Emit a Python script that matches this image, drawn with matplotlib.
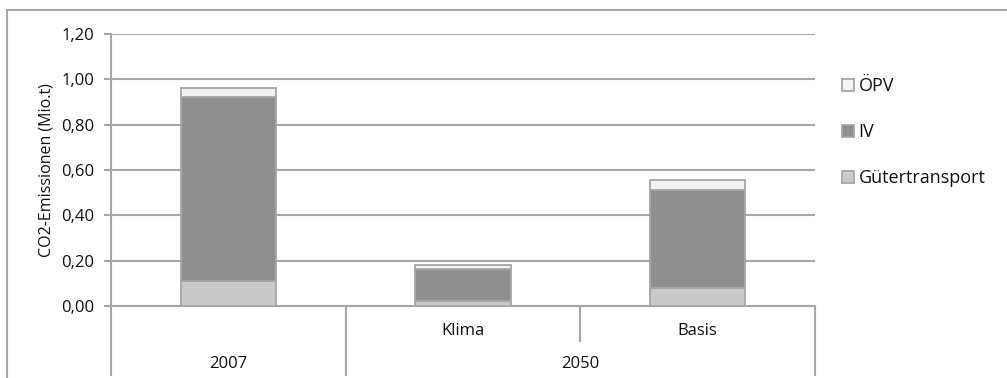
import matplotlib.pyplot as plt
from matplotlib.patches import Rectangle
import numpy as np

plt.rcParams['font.family'] = ['Open Sans', 'DejaVu Sans']

# data
categories = ['2007', 'Klima', 'Basis']
groups = ['2007', '2050']
gueter = [0.11, 0.02, 0.08]
iv = [0.81, 0.145, 0.43]
oepv = [0.04, 0.015, 0.045]
yticks = [0.0, 0.2, 0.4, 0.6, 0.8, 1.0, 1.2]

c_oepv = '#f2f2f2'
c_iv = '#8f8f8f'
c_gue = '#c9c9c9'
c_line = '#a6a6a6'
c_text = '#111111'

fig = plt.figure(figsize=(10.07, 3.78), dpi=100)
ax = fig.add_axes([111/1007, 1-306/378, (815-111)/1007, (306-34)/378])

x = np.arange(len(categories))
w = 0.405
b1 = ax.bar(x, gueter, w, color=c_gue, edgecolor=c_line, lw=1.3, label='Gütertransport', zorder=3)
b2 = ax.bar(x, iv, w, bottom=gueter, color=c_iv, edgecolor=c_line, lw=1.3, label='IV', zorder=3)
b3 = ax.bar(x, oepv, w, bottom=np.add(gueter, iv), color=c_oepv, edgecolor=c_line, lw=1.3,
            label='ÖPV', zorder=3)

ax.set_xlim(-0.5, 2.5)
ax.set_ylim(0, 1.2)
ax.set_yticks(yticks)
ax.set_yticklabels([f'{v:.2f}'.replace('.', ',') for v in yticks], fontsize=12)
ax.yaxis.grid(True, color=c_line, lw=1.5, zorder=0)
ax.set_axisbelow(True)
ax.set_xticks([])
ax.tick_params(axis='y', length=5, width=1.5, color=c_line, pad=7, labelcolor=c_text)
for s in ['top', 'right']:
    ax.spines[s].set_visible(False)
for s in ['left', 'bottom']:
    ax.spines[s].set_color(c_line)
    ax.spines[s].set_linewidth(1.5)
ax.set_ylabel('CO2-Emissionen (Mio.t)', fontsize=11.5, labelpad=5, color=c_text)

# multi-level category axis
trans = ax.get_xaxis_transform()
for xv in [-0.5, 0.5, 2.5]:
    ax.plot([xv, xv], [0, -0.255], color=c_line, lw=1.5, transform=trans, clip_on=False)
ax.plot([1.5, 1.5], [0, -0.13], color=c_line, lw=1.5, transform=trans, clip_on=False)
for xv, lab in zip(x[1:], categories[1:]):
    ax.text(xv, -0.092, lab, transform=trans, ha='center', va='center', fontsize=12,
            color=c_text)
ax.text(0, -0.213, groups[0], transform=trans, ha='center', va='center', fontsize=12,
        color=c_text)
ax.text(1.5, -0.213, groups[1], transform=trans, ha='center', va='center', fontsize=12,
        color=c_text)

leg = ax.legend(handles=[b3, b2, b1], loc='upper left', bbox_to_anchor=(826/1007, 1-61/378),
                bbox_transform=fig.transFigure, frameon=False, fontsize=13,
                handlelength=0.65, handleheight=0.65, handletextpad=0.25, labelspacing=1.55)
for t in leg.get_texts():
    t.set_color(c_text)

fig.add_artist(Rectangle((7/1007, -0.1), 1.2, 1.1-10/378, transform=fig.transFigure,
                         fill=False, edgecolor=c_line, lw=1.5))

fig.savefig('out.png', dpi=100)
